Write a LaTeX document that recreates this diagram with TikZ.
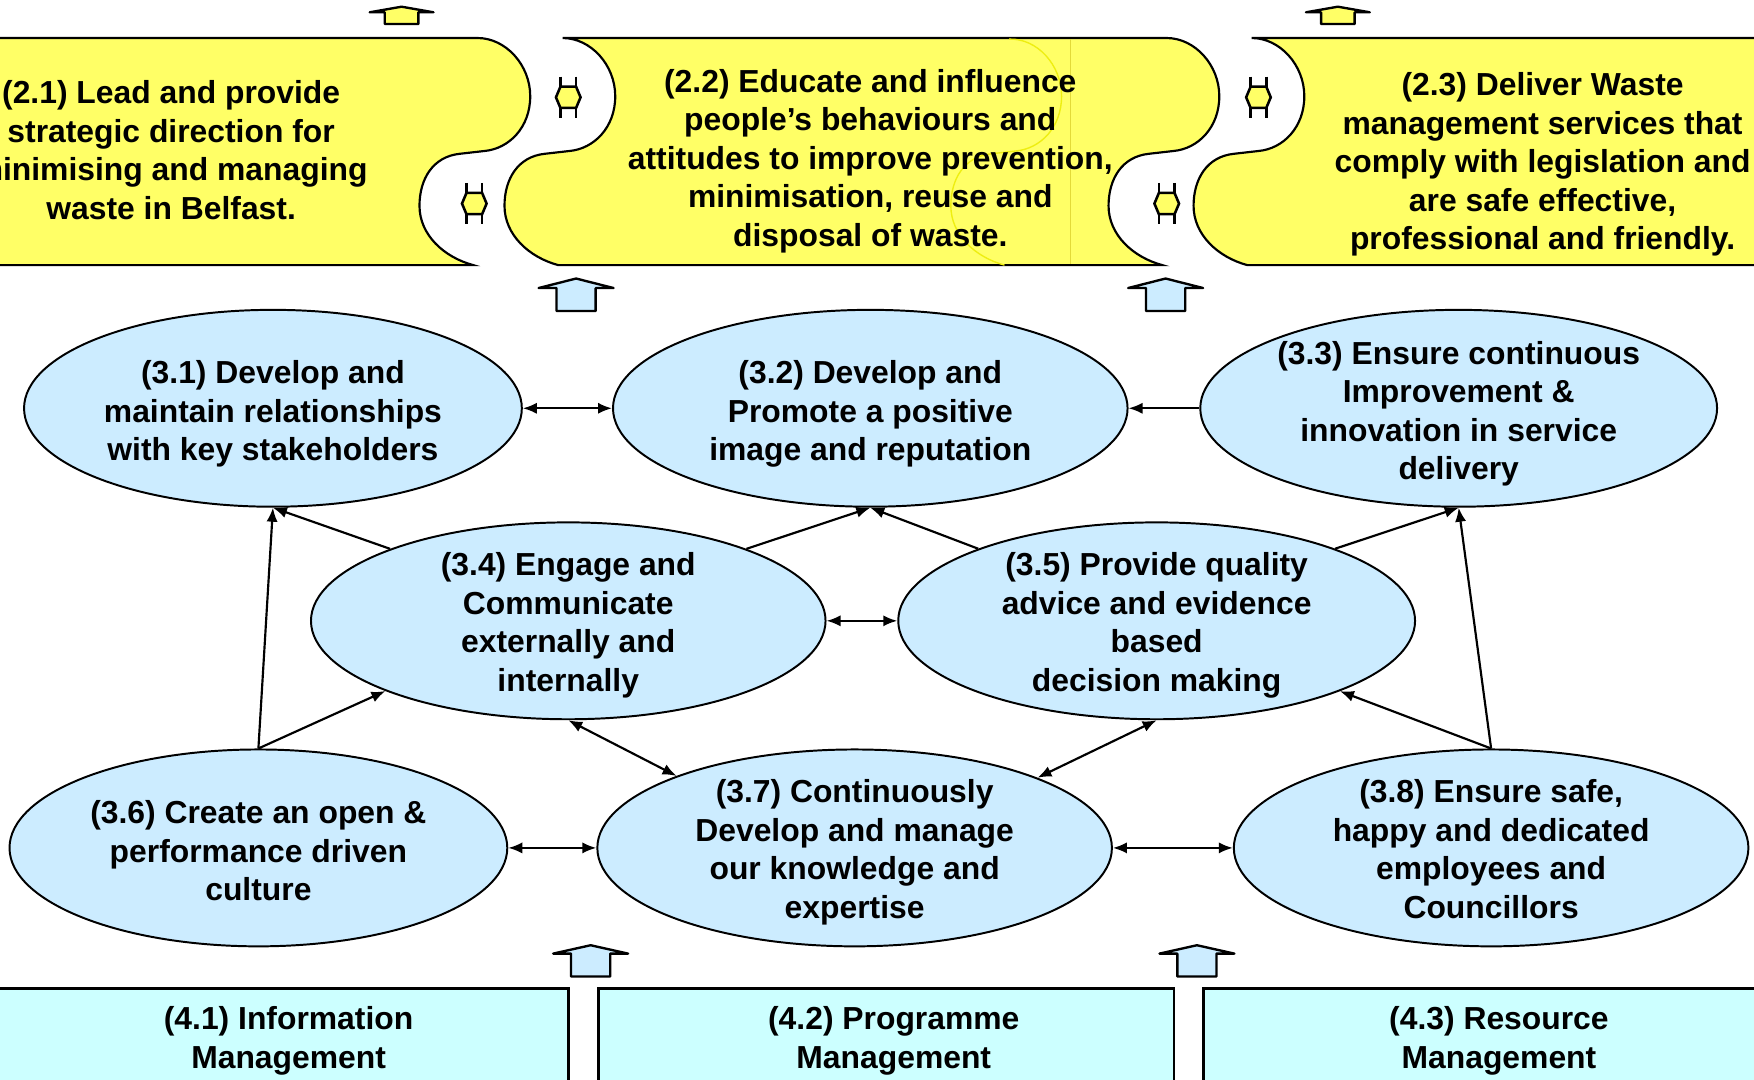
\documentclass[tikz,border=0pt]{standalone}
\usepackage{fontspec}
\setmainfont{Liberation Sans}
\usetikzlibrary{shapes.geometric,arrows.meta}
\definecolor{banY}{HTML}{FFFF66}
\definecolor{ellB}{HTML}{CCECFF}
\definecolor{boxC}{HTML}{CCFFFF}
\definecolor{ghostY}{HTML}{EEEE10}
\newcommand\sedgedown[1]{.. controls ({#1+25},34) and ({#1+47},58) .. ({#1+47},86) .. controls ({#1+47},114) and ({#1+28},133) .. ({#1+6},135) -- ({#1-16},137.5) .. controls ({#1-40},140) and ({#1-52},160) .. ({#1-52},184) .. controls ({#1-52},210) and ({#1-30},230) .. ({#1-4},237)}
\newcommand\sedgeup[1]{.. controls ({#1-30},230) and ({#1-52},210) .. ({#1-52},184) .. controls ({#1-52},160) and ({#1-40},140) .. ({#1-16},137.5) -- ({#1+6},135) .. controls ({#1+28},133) and ({#1+47},114) .. ({#1+47},86) .. controls ({#1+47},58) and ({#1+25},34) .. (#1,34)}
\newcommand\blockup[7]{\filldraw[blockarrow,fill=#7] (#1,#2) -- ({#1+#5},#3) -- ({#1+#6},#3) -- ({#1+#6},#4) -- ({#1-#6},#4) -- ({#1-#6},#3) -- ({#1-#5},#3) -- cycle;}
\newcommand\linksym[2]{%
  \draw[line width=0.65pt] ({#1-7},{#2-18.5}) -- ({#1-7},{#2-9.5}) ({#1+7},{#2-18.5}) -- ({#1+7},{#2-9.5})
     ({#1-7},{#2+9.5}) -- ({#1-7},{#2+18.5}) ({#1+7},{#2+9.5}) -- ({#1+7},{#2+18.5});
  \filldraw[fill=banY,line width=0.65pt,line join=miter] ({#1-7},{#2-9.5}) -- ({#1+7},{#2-9.5}) -- ({#1+11},#2) -- ({#1+7},{#2+9.5}) -- ({#1-7},{#2+9.5}) -- ({#1-11},#2) -- cycle;}
\tikzset{
  txt/.style={font=\fontsize{8.1}{9.8}\selectfont\bfseries, align=center, inner sep=0pt},
  oval/.style={ellipse, draw=black, line width=0.5pt, fill=ellB, inner sep=0pt, minimum height=17.6mm},
  biarrow/.style={line width=0.55pt, {Latex[length=1.25mm,width=1mm]}-{Latex[length=1.25mm,width=1mm]}},
  onearrow/.style={line width=0.55pt, -{Latex[length=1.25mm,width=1mm]}},
  banner/.style={fill=banY, draw=black, line width=0.55pt},
  blockarrow/.style={draw=black, line width=0.6pt, line join=round},
  bottombox/.style={fill=boxC, draw=black, line width=0.75pt},
}
\begin{document}
\begin{tikzpicture}[x=0.1mm,y=-0.1mm]
\useasboundingbox (0,0) rectangle (1568,964.6);
\clip (0,0) rectangle (1568,964.6);
% banners
\path[banner] (-10,34) -- (427,34) \sedgedown{427} -- (-10,237) -- cycle;
\path[banner] (503,34) -- (1043,34) \sedgedown{1043} -- (499,237) \sedgeup{503} -- cycle;
\path[banner] (1600,34) -- (1600,237) -- (1115,237) \sedgeup{1119} -- cycle;
% ghost lines inside banner 2
\draw[ghostY, line width=0.35pt] (902,35) \sedgedown{902};
\draw[yellow!75!gray, line width=0.3pt] (957,35) -- (957,236);
% link symbols
\linksym{508}{87}
\linksym{424}{182}
\linksym{1125}{87}
\linksym{1043}{182}
% yellow arrows at top
\blockup{359}{6}{11}{21.5}{28.5}{15}{banY}
\blockup{1196}{6}{11}{21.5}{28.5}{15}{banY}
% blue arrows
\blockup{515}{249}{257.5}{278}{33.5}{17.5}{ellB}
\blockup{1042}{249}{257.5}{278}{33.5}{17.5}{ellB}
\blockup{528}{845}{852.5}{873}{33.5}{17.5}{ellB}
\blockup{1070}{845}{852.5}{873}{33.5}{17.5}{ellB}
% banner texts
\node[txt] (n21) at (153,134) {(2.1) Lead and provide\\strategic direction for\\minimising and managing\\waste in Belfast.};
\node[txt] (n22) at (778,144) {(2.2) Educate and influence\\people’s behaviours and\\attitudes to improve prevention,\\minimisation, reuse and\\disposal of waste.};
\node[txt] (n23) at (1379,147) {(2.3) Deliver Waste\\management services that\\comply with legislation and\\are safe effective,\\professional and friendly.};
% ellipses
\node[oval, minimum width=44.5mm] (e31) at (244,365) {};
\node[oval, minimum width=46mm] (e32) at (778,365) {};
\node[oval, minimum width=46.2mm] (e33) at (1304,365) {};
\node[oval, minimum width=46mm] (e34) at (508,555) {};
\node[oval, minimum width=46.2mm] (e35) at (1034,555) {};
\node[oval, minimum width=44.5mm] (e36) at (231,758) {};
\node[oval, minimum width=46mm] (e37) at (764,758) {};
\node[oval, minimum width=46mm] (e38) at (1333,758) {};
\node[txt] (l31) at (244,370) {(3.1) Develop and\\maintain relationships\\with key stakeholders};
\node[txt] (l32) at (778,370) {(3.2) Develop and\\Promote a positive\\image and reputation};
\node[txt] (l33) at (1304,370) {(3.3) Ensure continuous\\Improvement \&\\innovation in service\\delivery};
\node[txt] (l34) at (508,559) {(3.4) Engage and\\Communicate\\externally and\\internally};
\node[txt] (l35) at (1034,559) {(3.5) Provide quality\\advice and evidence\\based\\decision making};
\node[txt] (l36) at (231,760.5) {(3.6) Create an open \&\\performance driven\\culture};
\node[txt] (l37) at (764,762) {(3.7) Continuously\\Develop and manage\\our knowledge and\\expertise};
\node[txt] (l38) at (1333,759) {(3.8) Ensure safe,\\happy and dedicated\\employees and\\Councillors};
% connectors
\draw[biarrow] (e31.east) -- (e32.west);
\draw[onearrow] (e33.west) -- (e32.east);
\draw[biarrow] (e34.east) -- (e35.west);
\draw[biarrow] (e36.east) -- (e37.west);
\draw[biarrow] (e37.east) -- (e38.west);
\draw[onearrow] (e34.158) -- (e31.south);
\draw[onearrow] (e34.22) -- (e32.south);
\draw[onearrow] (e35.158) -- (e32.south);
\draw[onearrow] (e35.22) -- (e33.south);
\draw[onearrow] (e36.north) -- (e31.south);
\draw[onearrow] (e36.north) -- (e34.201);
\draw[onearrow] (e38.north) -- (e33.south);
\draw[onearrow] (e38.north) -- (e35.339);
\draw[biarrow] (e34.south) -- (e37.158);
\draw[biarrow] (e35.south) -- (e37.21);
% bottom boxes
\path[bottombox] (-10,884) rectangle (508.5,985);
\path[bottombox] (535,884) rectangle (1049.5,985);
\path[bottombox] (1076,884) rectangle (1600,985);
\node[txt] (t41) at (258,930.5) {(4.1) Information\\Management};
\node[txt] (t42) at (799,930.5) {(4.2) Programme\\Management};
\node[txt] (t43) at (1340,930.5) {(4.3) Resource\\Management};
\end{tikzpicture}
\end{document}
